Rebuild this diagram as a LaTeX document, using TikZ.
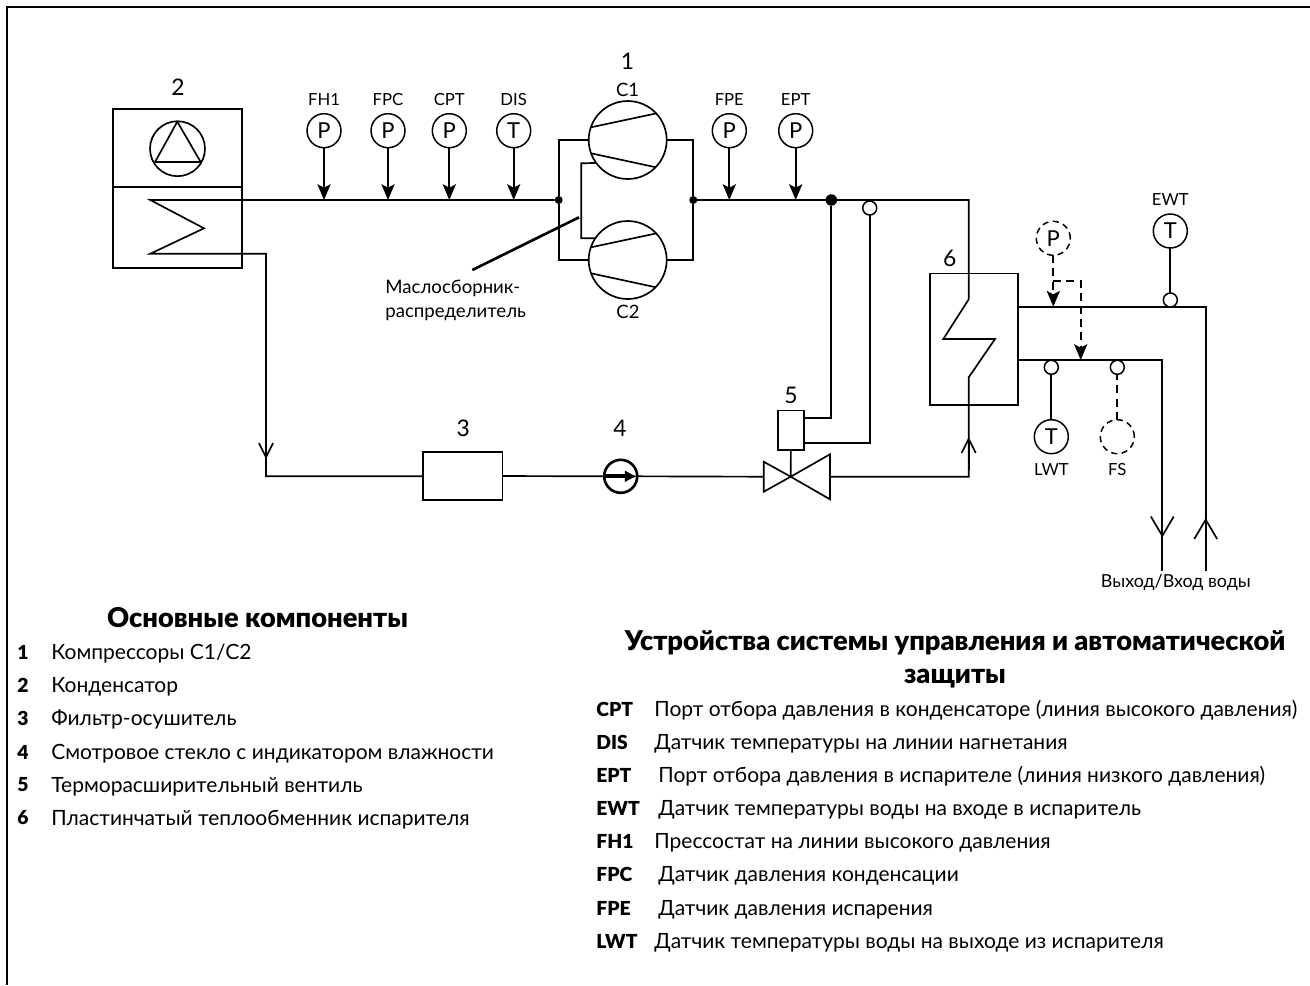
\documentclass[tikz,border=0pt]{standalone}
\usepackage{fontspec}
\setmainfont{Lato}
\newfontfamily\heavyfont{Lato Black}
\usetikzlibrary{arrows.meta}
\tikzset{
    pipe/.style={line width=0.95pt},
    probe/.style={line width=0.95pt, -{Stealth[length=9pt, width=7.5pt, inset=2pt]}},
    dashprobe/.style={probe, dash pattern=on 4.5pt off 3pt},
    smalltip/.style={line width=0.95pt, -{Straight Barb[length=8pt, width=8pt]}},
    bigtip/.style={line width=0.95pt, -{Straight Barb[length=11pt, width=13pt]}},
    part/.style={rectangle, draw, line width=0.95pt, inner sep=0pt, outer sep=0pt, fill=white},
    sensor/.style={circle, draw, line width=0.85pt, inner sep=0pt, outer sep=0pt, minimum size=0.68cm, font=\fontsize{12.5}{14}\selectfont},
    bulb/.style={circle, draw, line width=0.85pt, fill=white, inner sep=0pt, outer sep=0pt, minimum size=0.28cm},
    comp/.style={circle, draw, line width=0.95pt, inner sep=0pt, outer sep=0pt, minimum size=1.56cm},
    dot/.style={circle, fill=black, inner sep=0pt, outer sep=0pt, minimum size=0.16cm},
    tag/.style={inner sep=0pt, font=\fontsize{9.5}{11}\selectfont},
    num/.style={inner sep=0pt, font=\fontsize{13}{15}\selectfont},
    head/.style={inner sep=0pt, align=center, font=\heavyfont\fontsize{15.5}{18.8}\selectfont},
    key/.style={inner sep=0pt, anchor=west, font=\heavyfont\fontsize{11}{13}\selectfont},
    item/.style={inner sep=0pt, anchor=west, yshift=-0.8pt, font=\fontsize{11.95}{13}\selectfont}
}
\begin{document}
\begin{tikzpicture}[x=0.02cm, y=-0.02cm]
    \useasboundingbox (0,0) rectangle (1310,985);
    \coordinate (frameA) at (7,985);
    \coordinate (frameB) at (7,7);
    \coordinate (frameC) at (1310,7);
    \draw [line width=1.5pt] (frameA) -- (frameB) -- (frameC);

    \node (cond) [part, fill=none, minimum width=2.58cm, minimum height=3.19cm] at (177.2,188.5) {};
    \coordinate (condL) at (112.7,187);
    \coordinate (condR) at (241.7,187);
    \draw [pipe] (condL) -- (condR);
    \node (fan) [circle, draw, line width=0.95pt, inner sep=0pt, minimum size=1.1cm] at (177.5,148.7) {};
    \draw [pipe, line join=round] (177.3,121.7) -- (155,162) -- (200.7,162) -- cycle;
    \node (lab2) [num] at (178,87) {2};

    \node (junL) [dot] at (558.7,200) {};
    \node (junR) [dot] at (693.3,200) {};
    \node (junP) [circle, fill=black, inner sep=0pt, minimum size=0.23cm] at (831.3,200) {};
    \coordinate (coilA) at (150.3,200);
    \coordinate (coilM) at (204,228.3);
    \coordinate (coilB) at (150.3,253.7);
    \draw [pipe] (junL) -- (coilA) -- (coilM) -- (coilB) -- (266,253.7) -- (266,476.3) -- (423,476.3);
    \coordinate (tipA) at (266,459);
    \draw [smalltip] (266,430) -- (tipA);

    \foreach \name/\x/\sym in {FH1/324/P, FPC/388/P, CPT/449.3/P, DIS/513.7/T, FPE/729.3/P, EPT/795.7/P} {
        \node (s\name) [sensor] at (\x,130.7) {\sym};
        \node (lab\name) [tag] at (\x,99.5) {\name};
        \draw [probe] (s\name) -- (s\name |- junL);
    }

    \foreach \c/\y in {C1/140, C2/260} {
        \node (\c) [comp] at (627.7,\y) {};
        \draw [pipe] (\c) ++(-36.7,-12.7) -- ++(65.7,-14);
        \draw [pipe] (\c) ++(-36.7,13.3) -- ++(65,14);
        \draw [pipe] (\c.west) -| (junL);
        \draw [pipe] (\c.east) -| (junR);
    }
    \node (lab1) [num] at (627.5,61) {1};
    \node (labC1) [tag, font=\fontsize{10.5}{12}\selectfont] at (627.5,90) {C1};
    \node (labC2) [tag, font=\fontsize{10.5}{12}\selectfont] at (628,312) {C2};
    \coordinate (oilT) at (581.3,163.3);
    \coordinate (oilB) at (581.3,238.3);
    \draw [pipe] (C1.216) -- (oilT) -- (oilB) -- (C2.146);
    \coordinate (oilP) at (579,217.3);
    \coordinate (oilQ) at (472.3,270);
    \draw [line width=1.5pt] (oilP) -- (oilQ);
    \node (oil) [tag, anchor=north west, align=left, font=\fontsize{10.6}{13.7}\selectfont] at (385,280) {Маслосборник-\\распределитель};

    \node (filter) [part, minimum width=1.586cm, minimum height=0.96cm] at (462.7,476) {};
    \node (lab3) [num] at (463.3,428) {3};
    \node (sight) [circle, draw, line width=1.5pt, inner sep=0pt, outer sep=0pt, minimum size=0.66cm] at (620.7,476.3) {};
    \node (lab4) [num] at (620,428) {4};
    \coordinate (valveL) at (763.7,476.7);
    \coordinate (valveC) at (790.7,476.7);
    \coordinate (valveR) at (830,476.7);
    \draw [pipe] (filter.east) -- (sight.west);
    \draw [pipe] (sight.east) -- (valveL);
    \draw [line width=2.2pt, -{Latex[length=7pt, width=7pt]}] (sight.west) -- (sight.east);
    \draw [pipe] (763.7,461.7) -- (valveC) -- (763.7,491.7) -- cycle;
    \draw [pipe] (830,454.3) -- (valveC) -- (830,499.3) -- cycle;

    \node (txv) [part, minimum width=0.532cm, minimum height=0.794cm] at (791,430.2) {};
    \node (lab5) [num] at (791,395) {5};
    \draw [pipe] (txv) -- (valveC);
    \coordinate (txvA) at (804.3,417.7);
    \coordinate (txvB) at (804.3,443.3);
    \draw [pipe] (txvA) -| (junP);
    \node (bulbP) [bulb] at (869.7,208) {};
    \draw [pipe] (txvB) -| (bulbP);

    \node (evap) [part, fill=none, minimum width=1.76cm, minimum height=2.634cm] at (973.7,339.2) {};
    \node (lab6) [num] at (949.7,258) {6};
    \draw [pipe] (junR) -- (968.7,200) -- (968.7,299.3) -- (943.3,339) -- (995,339) -- (968.7,377.3) -- (968.7,476.7) -- (valveR);
    \coordinate (tipB) at (968.7,437);
    \draw [smalltip] (968.7,470) -- (tipB);
    \draw [pipe] (junR) -- (junP);

    \coordinate (wtrA) at (1017.7,306.7);
    \coordinate (wtrB) at (1205.7,306.7);
    \coordinate (wtrC) at (1205.7,570.7);
    \coordinate (wtrD) at (1017.7,360);
    \coordinate (wtrE) at (1162.3,360);
    \coordinate (wtrF) at (1162.3,570.7);
    \draw [pipe] (wtrA) -- (wtrB) -- (wtrC);
    \draw [pipe] (wtrD) -- (wtrE) -- (wtrF);
    \coordinate (tipC) at (1205.7,518);
    \coordinate (tipD) at (1162.3,537.5);
    \draw [bigtip] (1205.7,560) -- (tipC);
    \draw [bigtip] (1162.3,500) -- (tipD);
    \node (water) [tag, font=\fontsize{10.2}{12}\selectfont] at (1175.8,582) {Выход/Вход воды};

    \node (sEWT) [sensor] at (1170.3,231) {T};
    \node (labEWT) [tag] at (1170.3,200) {EWT};
    \node (bEWT) [bulb] at (1170.3,300) {};
    \draw [pipe] (sEWT) -- (bEWT);
    \node (sLWT) [sensor] at (1051.3,436.7) {T};
    \node (labLWT) [tag] at (1051.3,469.5) {LWT};
    \node (bLWT) [bulb] at (1051.3,367.3) {};
    \draw [pipe] (sLWT) -- (bLWT);
    \node (sFS) [sensor, dash pattern=on 3.5pt off 2.5pt] at (1117.3,436.7) {};
    \node (labFS) [tag] at (1117.3,469.5) {FS};
    \node (bFS) [bulb] at (1117.3,367.3) {};
    \draw [pipe, dash pattern=on 4.5pt off 3pt] (sFS) -- (bFS);
    \node (sDP) [sensor, dash pattern=on 3.5pt off 2.5pt] at (1053.3,238.3) {P};
    \coordinate (dashA) at (1053.3,280.7);
    \coordinate (dashB) at (1080.7,280.7);
    \draw [dashprobe] (sDP) -- (sDP |- wtrA);
    \draw [dashprobe] (dashA) -- (dashB) -- (dashB |- wtrD);

    \node (headL) [head] at (257.5,618) {Основные компоненты};
    \foreach \y/\n/\txt in {652/1/{Компрессоры C1/C2}, 685/2/{Конденсатор}, 718/3/{Фильтр-осушитель}, 752/4/{Смотровое стекло с индикатором влажности}, 785/5/{Терморасширительный вентиль}, 818/6/{Пластинчатый теплообменник испарителя}} {
        \node (key\n) [key] at (17,\y) {\n};
        \node (item\n) [item] at (51,\y) {\txt};
    }

    \node (headR) [head] at (955,659.5) {Устройства системы управления и автоматической\\защиты};
    \foreach \y/\k/\x/\txt in {709/CPT/654/{Порт отбора давления в конденсаторе (линия высокого давления)}, 742/DIS/654/{Датчик температуры на линии нагнетания}, 775/EPT/658/{Порт отбора давления в испарителе (линия низкого давления)}, 808/EWT/658/{Датчик температуры воды на входе в испаритель}, 841/FH1/654/{Прессостат на линии высокого давления}, 874/FPC/658/{Датчик давления конденсации}, 908/FPE/658/{Датчик давления испарения}, 941/LWT/654/{Датчик температуры воды на выходе из испарителя}} {
        \node (key\k) [key] at (596,\y) {\k};
        \node (item\k) [item] at (\x,\y) {\txt};
    }
\end{tikzpicture}
\end{document}
